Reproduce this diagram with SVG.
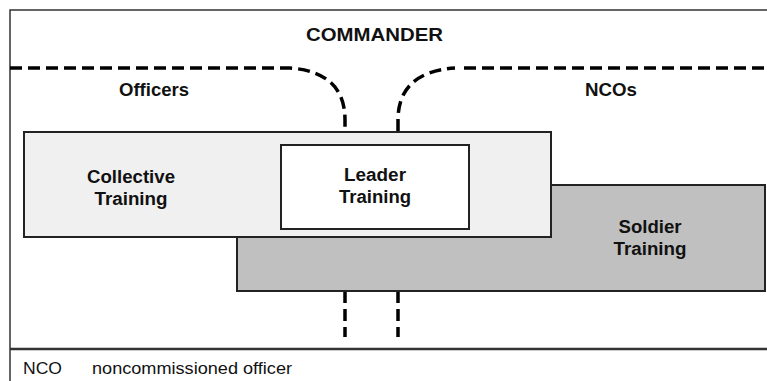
<svg xmlns="http://www.w3.org/2000/svg" width="767" height="381" viewBox="0 0 767 381">
<style>
text{font-family:"Liberation Sans",Arial,sans-serif;fill:#111;}
.b{font-weight:bold;text-anchor:middle;}
.box{stroke:#222;stroke-width:2;}
.dash{fill:none;stroke:#000;stroke-width:3.5;stroke-dasharray:12 6;}
</style>
<rect x="0" y="0" width="767" height="381" fill="#fff"/>
<g id="frame" fill="none" stroke="#333">
<path d="M10,381 V10 H767" stroke-width="1.5"/>
<path d="M10,349 H767" stroke-width="2.5"/>
</g>
<text class="b" x="374.5" y="41" font-size="18.5" textLength="137" lengthAdjust="spacingAndGlyphs">COMMANDER</text>
<text class="b" x="154" y="96" font-size="17.5" textLength="70" lengthAdjust="spacingAndGlyphs">Officers</text>
<text class="b" x="611" y="96" font-size="17.5" textLength="52" lengthAdjust="spacingAndGlyphs">NCOs</text>
<g id="connectors">
<path class="dash" d="M10,68 H290 Q345,72 345,120 V131"/>
<path class="dash" d="M398,131 V120 Q398,72 455,68"/>
<path class="dash" d="M464,68 H767"/>
<path class="dash" d="M345,291 V337"/>
<path class="dash" d="M398,291 V337"/>
</g>
<g id="soldier">
<rect class="box" x="237" y="185" width="528" height="106" fill="#c0c0c0"/>
<text class="b" x="650" y="233" font-size="18" textLength="63" lengthAdjust="spacingAndGlyphs">Soldier</text>
<text class="b" x="650" y="255" font-size="18" textLength="73" lengthAdjust="spacingAndGlyphs">Training</text>
</g>
<g id="collective">
<rect class="box" x="24" y="132" width="527" height="105" fill="#f0f0f0"/>
<text class="b" x="131" y="183" font-size="18" textLength="88" lengthAdjust="spacingAndGlyphs">Collective</text>
<text class="b" x="131" y="205" font-size="18" textLength="73" lengthAdjust="spacingAndGlyphs">Training</text>
</g>
<g id="leader">
<rect class="box" x="281" y="145" width="188" height="84" fill="#fff"/>
<text class="b" x="375" y="181" font-size="18" textLength="62" lengthAdjust="spacingAndGlyphs">Leader</text>
<text class="b" x="375" y="203" font-size="18" textLength="72" lengthAdjust="spacingAndGlyphs">Training</text>
</g>
<g id="legend">
<text x="23" y="374" font-size="16" textLength="39" lengthAdjust="spacingAndGlyphs">NCO</text>
<text x="92" y="374" font-size="16" textLength="200" lengthAdjust="spacingAndGlyphs">noncommissioned officer</text>
</g>
</svg>
